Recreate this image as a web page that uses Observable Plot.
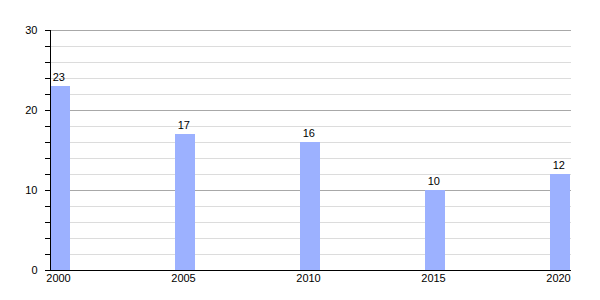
<!DOCTYPE html>
<html><head><meta charset="utf-8">
<script src="https://cdn.jsdelivr.net/npm/d3@7"></script>
<script src="https://cdn.jsdelivr.net/npm/@observablehq/plot@0.6"></script>
<style>body{margin:0;background:#fff}</style>
</head><body><div id="chart"></div>
<script>
const years = [2000, 2005, 2010, 2015, 2020];
const values = [23, 17, 16, 10, 12];
const majorTicks = [10, 20, 30];
const minorTicks = [2, 4, 6, 8, 12, 14, 16, 18, 22, 24, 26, 28];
const yTicks = d3.range(0, 31, 2);

const data = years.map((y, i) => ({year: y, value: values[i]}));
const barW = 0.8;

const chart = Plot.plot({
  width: 600, height: 300,
  marginLeft: 50, marginRight: 29, marginTop: 30, marginBottom: 30,
  style: {fontFamily: "'Liberation Sans', Arial, sans-serif", fontSize: "11px", color: "#000"},
  x: {domain: [2000, 2020.84]},
  y: {domain: [0, 30]},
  marks: [
    Plot.ruleY(minorTicks, {stroke: "#dcdcdc", strokeWidth: 1}),
    Plot.ruleY(majorTicks, {stroke: "#a8a8a8", strokeWidth: 1}),
    Plot.rectY(data, {x1: "year", x2: d => d.year + barW, y: "value", fill: "#9cb1ff", inset: 0}),
    Plot.text(data, {x: d => d.year + 0.33, y: "value", text: d => String(d.value), dy: -9, fill: "#000", fontSize: 11}),
    Plot.axisY({ticks: yTicks, tickSize: 5, tickFormat: d => d % 10 === 0 ? d : "", tickPadding: 8, stroke: "#000", label: null}),
    Plot.axisX({ticks: years, tickSize: 0, tickFormat: d => String(d), dx: 8, tickPadding: 4, label: null}),
    Plot.ruleX([2000], {stroke: "#000"}),
    Plot.ruleY([0], {stroke: "#000"})
  ]
});
document.getElementById("chart").appendChild(chart);
</script>
</body></html>
